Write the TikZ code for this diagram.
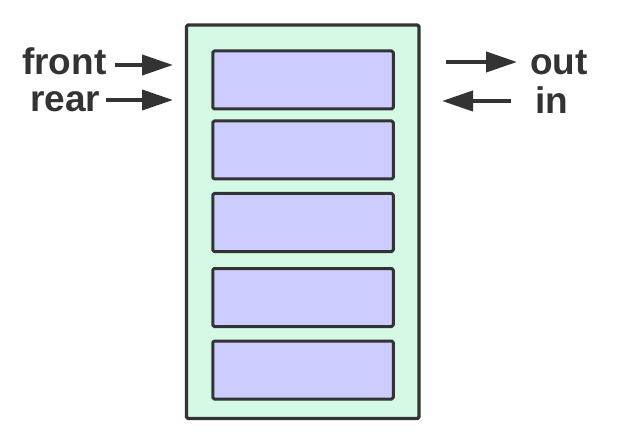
\documentclass[tikz,border=0pt]{standalone}
\usepackage{fontspec}
\setmainfont{Liberation Sans}
\usetikzlibrary{arrows.meta}
\definecolor{mint}{HTML}{D4FAE6}
\definecolor{lav}{HTML}{CCCCFF}
\definecolor{ink}{HTML}{333333}
\begin{document}
\begin{tikzpicture}[x=1pt, y=-1pt, line join=round, >={Triangle[length=31pt,width=20pt]},
		lbl/.style={font=\fontsize{37}{40}\selectfont\bfseries, text=ink, inner sep=0pt},
		ptr/.style={->, ink, line width=4pt},
		cell/.style={draw=ink, fill=lav, line width=3pt, rounded corners=1.5pt, inner sep=0pt, minimum width=180.5pt, minimum height=58pt}]
	\useasboundingbox (0,0) rectangle (620,438);
	\node[draw=ink, fill=mint, line width=3.3pt, rounded corners=1.5pt, inner sep=0pt, minimum width=232.5pt, minimum height=393.5pt] (queue) at (302.75,221.75) {};
	\foreach \n/\y in {1/80,2/150,3/222.5,4/297.5,5/370}
		\node[cell] (cell\n) at (303,\y) {};
	\node[lbl, anchor=base west] (front) at (22,75) {front};
	\node[lbl, anchor=base west] (rear) at (30,112) {rear};
	\node[lbl, anchor=base west] (out) at (530,75) {out};
	\node[lbl, anchor=base west] (in) at (535,114) {in};
	\coordinate (fronttip) at (173,65);
	\coordinate (reartip) at (173,100);
	\coordinate (outtail) at (446,62);
	\coordinate (intip) at (442,101);
	\draw[ptr] ([xshift=8pt]front.east |- fronttip) -- (fronttip);
	\draw[ptr] ([xshift=6pt]rear.east |- reartip) -- (reartip);
	\draw[ptr] (outtail) -- ([xshift=-13pt]out.west |- outtail);
	\draw[ptr] ([xshift=-24pt]in.west |- intip) -- (intip);
\end{tikzpicture}
\end{document}
